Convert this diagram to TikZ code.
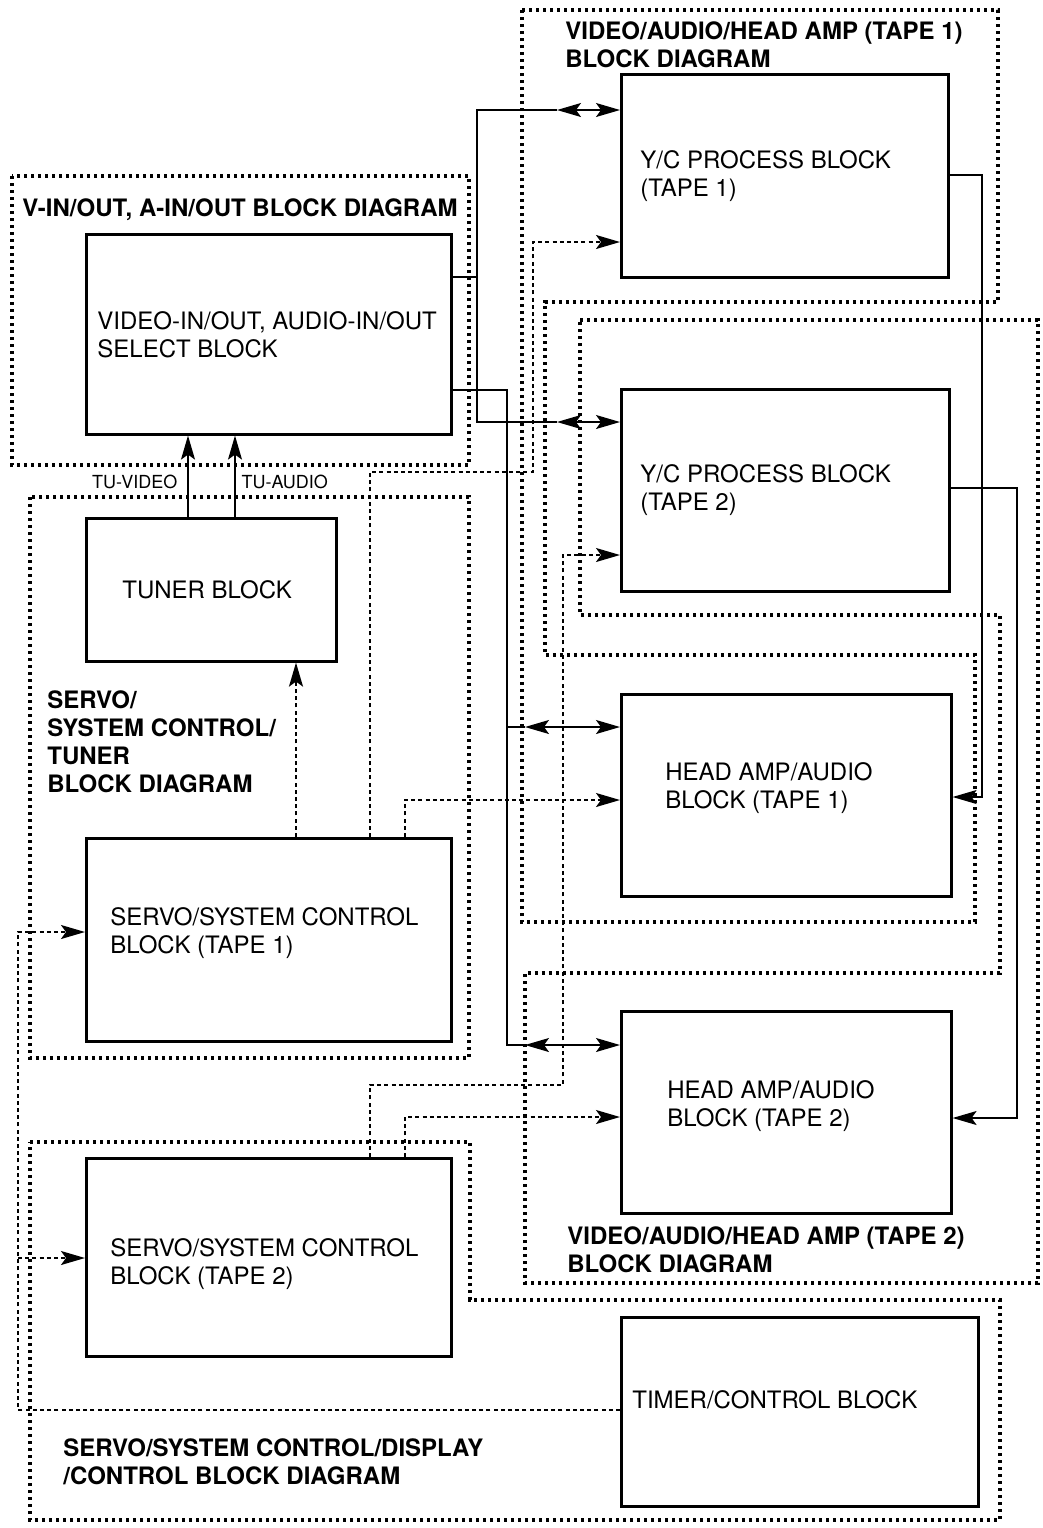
\documentclass[tikz,border=0pt]{standalone}
\usepackage{fontspec}
\setmainfont{TeX Gyre Heros}
\usetikzlibrary{arrows.meta}

\begin{document}
\begin{tikzpicture}[x=0.5pt, y=-0.5pt,
    tip/.tip={Stealth[length=12pt,width=7pt,inset=2.5pt]},
    fwd/.style={-tip},
    both/.style={tip-tip},
    blk/.style={draw, line width=1.3pt, anchor=north west, inner sep=0pt},
    txt/.style={font=\fontsize{12}{14}\selectfont, align=left, inner sep=0pt, anchor=west},
    zonetxt/.style={txt, font=\fontsize{12}{14}\selectfont\bfseries},
    smalltxt/.style={font=\fontsize{9}{10}\selectfont, inner sep=0pt},
    wire/.style={line width=0.7pt},
    ctl/.style={line width=0.85pt, dash pattern=on 2pt off 1.6pt},
    zone/.style={line width=2.3pt, dash pattern=on 1.6pt off 1.9pt}]
  \useasboundingbox (0,0) rectangle (1043,1528);

  % dotted outlines of the block diagrams
  \draw[zone] (12,176) rectangle (469,465);
  \draw[zone] (30,497) rectangle (469,1058);
  \draw[zone] (522,10) -- (998,10) -- (998,302) -- (545,302) -- (545,655)
    -- (975,655) -- (975,922) -- (522,922) -- cycle;
  \draw[zone] (580,320) -- (1038,320) -- (1038,1283) -- (525,1283) -- (525,973)
    -- (1000,973) -- (1000,615) -- (580,615) -- cycle;
  \draw[zone] (30,1142) -- (470,1142) -- (470,1300) -- (1000,1300) -- (1000,1520)
    -- (30,1520) -- cycle;

  \node[zonetxt] (vioLbl) at (22,210) {V-IN/OUT, A-IN/OUT BLOCK DIAGRAM};
  \node[zonetxt] (svoLbl) at (47,742) {SERVO/\\SYSTEM CONTROL/\\TUNER\\BLOCK DIAGRAM};
  \node[zonetxt] (tp1Lbl) at (565,45) {VIDEO/AUDIO/HEAD AMP (TAPE 1)\\BLOCK DIAGRAM};
  \node[zonetxt] (tp2Lbl) at (567,1250) {VIDEO/AUDIO/HEAD AMP (TAPE 2)\\BLOCK DIAGRAM};
  \node[zonetxt] (dspLbl) at (63,1462) {SERVO/SYSTEM CONTROL/DISPLAY\\/CONTROL BLOCK DIAGRAM};

  % blocks
  \node[blk, minimum width=182.5pt, minimum height=100pt] (vsel) at (85,233) {};
  \node[blk, minimum width=125pt, minimum height=71.5pt] (tuner) at (85,517) {};
  \node[blk, minimum width=182.5pt, minimum height=101.5pt] (sc1) at (85,837) {};
  \node[blk, minimum width=182.5pt, minimum height=99pt] (sc2) at (85,1157) {};
  \node[blk, minimum width=163.5pt, minimum height=101.5pt] (yc1) at (620,73) {};
  \node[blk, minimum width=164pt, minimum height=101pt] (yc2) at (620,388) {};
  \node[blk, minimum width=165pt, minimum height=101pt] (ha1) at (620,693) {};
  \node[blk, minimum width=165pt, minimum height=101pt] (ha2) at (620,1010) {};
  \node[blk, minimum width=178.5pt, minimum height=94.5pt] (timer) at (620,1316) {};

  \node[txt] (vselT) at ([xshift=6pt]vsel.west) {VIDEO-IN/OUT, AUDIO-IN/OUT\\SELECT BLOCK};
  \node[txt] (tunerT) at ([xshift=18.5pt]tuner.west) {TUNER BLOCK};
  \node[txt] (sc1T) at ([xshift=12.5pt, yshift=3.5pt]sc1.west) {SERVO/SYSTEM CONTROL\\BLOCK (TAPE 1)};
  \node[txt] (sc2T) at ([xshift=12.5pt, yshift=-3.5pt]sc2.west) {SERVO/SYSTEM CONTROL\\BLOCK (TAPE 2)};
  \node[txt] (yc1T) at ([xshift=10pt]yc1.west) {Y/C PROCESS BLOCK\\(TAPE 1)};
  \node[txt] (yc2T) at ([xshift=10pt]yc2.west) {Y/C PROCESS BLOCK\\(TAPE 2)};
  \node[txt] (ha1T) at ([xshift=22.5pt, yshift=3.5pt]ha1.west) {HEAD AMP/AUDIO\\BLOCK (TAPE 1)};
  \node[txt] (ha2T) at ([xshift=23.5pt, yshift=3pt]ha2.west) {HEAD AMP/AUDIO\\BLOCK (TAPE 2)};
  \node[txt] (timerT) at ([xshift=6pt, yshift=6pt]timer.west) {TIMER/CONTROL BLOCK};

  % video/audio lines
  \coordinate (j1) at (477,277);
  \coordinate (b1) at (557,110);
  \coordinate (b2) at (557,422);
  \draw[wire] (vsel.east |- j1) -- (j1);
  \draw[wire] (b1) -| (j1) |- (b2);
  \draw[wire, both] (b1) -- (yc1.west |- b1);
  \draw[wire, both] (b2) -- (yc2.west |- b2);

  \coordinate (j2) at (507,390);
  \coordinate (b3) at (525,727);
  \coordinate (b4) at (525,1045);
  \draw[wire] (vsel.east |- j2) -- (j2) |- (b4);
  \draw[wire] (j2 |- b3) -- (b3);
  \draw[wire, both] (b3) -- (ha1.west |- b3);
  \draw[wire, both] (b4) -- (ha2.west |- b4);

  \coordinate (k1) at (982,175);
  \coordinate (k2) at (982,797);
  \draw[wire, fwd] (yc1.east |- k1) -- (k1) -- (k2) -- (ha1.east |- k2);
  \coordinate (k3) at (1017,488);
  \coordinate (k4) at (1017,1118);
  \draw[wire, fwd] (yc2.east |- k3) -- (k3) -- (k4) -- (ha2.east |- k4);

  \draw[wire, fwd] ([xshift=51.5pt]tuner.north west) -- ([xshift=51.5pt]tuner.north west |- vsel.south)
    node[pos=0.43, smalltxt, anchor=east, xshift=-5pt] (tuVid) {TU-VIDEO};
  \draw[wire, fwd] ([xshift=75pt]tuner.north west) -- ([xshift=75pt]tuner.north west |- vsel.south)
    node[pos=0.43, smalltxt, anchor=west, xshift=3pt] (tuAud) {TU-AUDIO};

  % control lines
  \coordinate (c1) at (296,700);
  \draw[ctl, fwd] (sc1.north -| c1) -- (tuner.south -| c1);
  \coordinate (c2) at (370,472);
  \coordinate (c3) at (533,242);
  \draw[ctl, fwd] (sc1.north -| c2) -- (c2) -| (c3) -- (yc1.west |- c3);
  \coordinate (c4) at (405,800);
  \draw[ctl, fwd] (sc1.north -| c4) -- (c4) -- (ha1.west |- c4);
  \coordinate (c5) at (370,1085);
  \coordinate (c6) at (563,555);
  \draw[ctl, fwd] (sc2.north -| c5) -- (c5) -| (c6) -- (yc2.west |- c6);
  \coordinate (c7) at (405,1117);
  \draw[ctl, fwd] (sc2.north -| c7) -- (c7) -- (ha2.west |- c7);
  \coordinate (c8) at (18,1410);
  \coordinate (c9) at (18,932);
  \coordinate (c10) at (18,1258);
  \draw[ctl, fwd] (timer.west |- c8) -- (c8) -- (c9) -- (sc1.west |- c9);
  \draw[ctl, fwd] (c10) -- (sc2.west |- c10);
\end{tikzpicture}
\end{document}
